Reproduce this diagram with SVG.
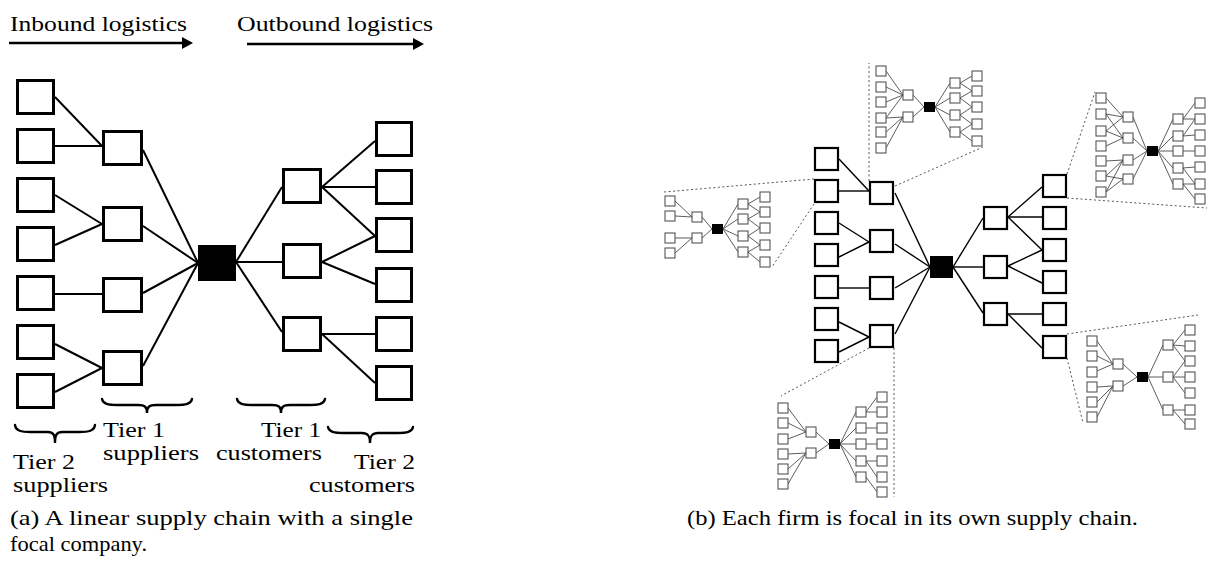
<svg xmlns="http://www.w3.org/2000/svg" width="1208" height="565" viewBox="0 0 1208 565">
  <style>
    .txt { font-family: "Liberation Serif", "DejaVu Serif", serif; font-size: 22px; fill: #000; }
    .bxa { fill: #fff; stroke: #000; stroke-width: 3; }
    .bxb { fill: #fff; stroke: #000; stroke-width: 2.2; }
    .bxm { fill: #fff; stroke: #555; stroke-width: 1.1; }
    .foc { fill: #000; }
    .lna { stroke: #000; stroke-width: 2; fill: none; }
    .lnb { stroke: #000; stroke-width: 1.4; fill: none; }
    .lnm { stroke: #333; stroke-width: 0.8; fill: none; }
    .dot { stroke: #555; stroke-width: 1; stroke-dasharray: 2 2.5; fill: none; }
    .brace { stroke: #000; stroke-width: 2.4; fill: none; stroke-linecap: round; }
    .arr { stroke: #000; stroke-width: 2.7; }
  </style>
  <rect width="1208" height="565" fill="#fff"/>

  <!-- ============ (a) linear supply chain ============ -->
  <g id="flow-labels">
    <text class="txt" x="10" y="31" textLength="177" lengthAdjust="spacingAndGlyphs">Inbound logistics</text>
    <line class="arr" x1="9" y1="43" x2="184" y2="43"/>
    <polygon points="193,43 182,37 182,49" fill="#000"/>
    <text class="txt" x="237" y="31" textLength="196" lengthAdjust="spacingAndGlyphs">Outbound logistics</text>
    <line class="arr" x1="247" y1="44" x2="415" y2="44"/>
    <polygon points="424,44 413,38 413,50" fill="#000"/>
  </g>

  <g id="a-connectors">
    <line class="lna" x1="55" y1="97" x2="102" y2="146"/>
    <line class="lna" x1="55" y1="146" x2="102" y2="146"/>
    <line class="lna" x1="55" y1="195" x2="102" y2="224"/>
    <line class="lna" x1="55" y1="245" x2="102" y2="224"/>
    <line class="lna" x1="55" y1="294" x2="102" y2="294"/>
    <line class="lna" x1="55" y1="344" x2="102" y2="368"/>
    <line class="lna" x1="55" y1="392" x2="102" y2="368"/>
    <line class="lna" x1="143" y1="150" x2="198" y2="263"/>
    <line class="lna" x1="143" y1="226" x2="198" y2="263"/>
    <line class="lna" x1="143" y1="293" x2="198" y2="263"/>
    <line class="lna" x1="143" y1="366" x2="198" y2="263"/>
    <line class="lna" x1="236" y1="262" x2="282" y2="187"/>
    <line class="lna" x1="236" y1="262" x2="282" y2="262"/>
    <line class="lna" x1="236" y1="262" x2="282" y2="332"/>
    <line class="lna" x1="322" y1="187" x2="375" y2="141"/>
    <line class="lna" x1="322" y1="187" x2="375" y2="187"/>
    <line class="lna" x1="322" y1="187" x2="375" y2="236"/>
    <line class="lna" x1="322" y1="262" x2="375" y2="236"/>
    <line class="lna" x1="322" y1="262" x2="375" y2="284"/>
    <line class="lna" x1="322" y1="334" x2="375" y2="334"/>
    <line class="lna" x1="322" y1="334" x2="375" y2="383"/>
  </g>

  <g id="a-tier2-suppliers">
    <rect class="bxa" x="17.5" y="80.5" width="36" height="33"/>
    <rect class="bxa" x="17.5" y="129.5" width="36" height="33"/>
    <rect class="bxa" x="17.5" y="178.5" width="36" height="33"/>
    <rect class="bxa" x="17.5" y="227.5" width="36" height="33"/>
    <rect class="bxa" x="17.5" y="276.5" width="36" height="33"/>
    <rect class="bxa" x="17.5" y="325.5" width="36" height="33"/>
    <rect class="bxa" x="17.5" y="374.5" width="36" height="33"/>
  </g>
  <g id="a-tier1-suppliers">
    <rect class="bxa" x="103.5" y="131.5" width="38" height="33"/>
    <rect class="bxa" x="103.5" y="207.5" width="38" height="33"/>
    <rect class="bxa" x="103.5" y="278.5" width="38" height="33"/>
    <rect class="bxa" x="103.5" y="351.5" width="38" height="33"/>
  </g>
  <g id="a-focal">
    <rect class="foc" x="198" y="245" width="38" height="36"/>
  </g>
  <g id="a-tier1-customers">
    <rect class="bxa" x="283.5" y="169.5" width="37" height="33"/>
    <rect class="bxa" x="283.5" y="244.5" width="37" height="33"/>
    <rect class="bxa" x="283.5" y="317.5" width="37" height="33"/>
  </g>
  <g id="a-tier2-customers">
    <rect class="bxa" x="376.5" y="122.5" width="35" height="33"/>
    <rect class="bxa" x="376.5" y="170.5" width="35" height="33"/>
    <rect class="bxa" x="376.5" y="218.5" width="35" height="33"/>
    <rect class="bxa" x="376.5" y="268.5" width="35" height="33"/>
    <rect class="bxa" x="376.5" y="317.5" width="35" height="33"/>
    <rect class="bxa" x="376.5" y="366.5" width="35" height="33"/>
  </g>

  <g id="a-braces">
    <path class="brace" d="M102,399 C103,404 108,405 118,405 L138,405 C145,405 147,407 147,413 C147,407 149,405 156,405 L176,405 C186,405 191,404 192,399"/>
    <path class="brace" d="M237,399 C238,404 243,405 253,405 L272,405 C279,405 281,407 281,413 C281,407 283,405 290,405 L309,405 C319,405 324,404 325,399"/>
    <path class="brace" d="M15,425 C16,431 21,432 31,432 L48,432 C54,432 55,436 55,443 C55,436 56,432 62,432 L79,432 C89,432 94,431 95,425"/>
    <path class="brace" d="M328,427 C329,432 334,433 344,433 L362,433 C368,433 370,436 370,443 C370,436 372,433 378,433 L397,433 C407,433 412,432 413,427"/>
  </g>

  <g id="a-labels">
    <text class="txt" x="103" y="437" textLength="62" lengthAdjust="spacingAndGlyphs">Tier 1</text>
    <text class="txt" x="103" y="460" textLength="96" lengthAdjust="spacingAndGlyphs">suppliers</text>
    <text class="txt" x="261" y="437" textLength="60" lengthAdjust="spacingAndGlyphs">Tier 1</text>
    <text class="txt" x="216" y="460" textLength="106" lengthAdjust="spacingAndGlyphs">customers</text>
    <text class="txt" x="13" y="469" textLength="62" lengthAdjust="spacingAndGlyphs">Tier 2</text>
    <text class="txt" x="13" y="492" textLength="95" lengthAdjust="spacingAndGlyphs">suppliers</text>
    <text class="txt" x="354" y="469" textLength="61" lengthAdjust="spacingAndGlyphs">Tier 2</text>
    <text class="txt" x="309" y="492" textLength="106" lengthAdjust="spacingAndGlyphs">customers</text>
    <text class="txt" x="10" y="525" textLength="403" lengthAdjust="spacingAndGlyphs">(a) A linear supply chain with a single</text>
    <text class="txt" x="10" y="551" textLength="137" lengthAdjust="spacingAndGlyphs">focal company.</text>
  </g>

  <!-- ============ (b) nested supply chains ============ -->
  <g id="b-zoom-guides">
    <line class="dot" x1="814" y1="179" x2="664" y2="192"/>
    <line class="dot" x1="814" y1="204" x2="772" y2="267"/>
    <line class="dot" x1="869" y1="181" x2="869" y2="63"/>
    <line class="dot" x1="895" y1="186" x2="983" y2="147"/>
    <line class="dot" x1="1067" y1="174" x2="1095" y2="92"/>
    <line class="dot" x1="1067" y1="198" x2="1207" y2="208"/>
    <line class="dot" x1="1067" y1="334" x2="1198" y2="315"/>
    <line class="dot" x1="1067" y1="358" x2="1083" y2="423"/>
    <line class="dot" x1="894" y1="348" x2="894" y2="497"/>
    <line class="dot" x1="869" y1="348" x2="781" y2="396"/>
  </g>

  <g id="b-connectors">
    <line class="lnb" x1="839" y1="159" x2="869" y2="191"/>
    <line class="lnb" x1="839" y1="191" x2="869" y2="191"/>
    <line class="lnb" x1="839" y1="223" x2="869" y2="242"/>
    <line class="lnb" x1="839" y1="257" x2="869" y2="242"/>
    <line class="lnb" x1="839" y1="288" x2="869" y2="288"/>
    <line class="lnb" x1="839" y1="322" x2="869" y2="337"/>
    <line class="lnb" x1="839" y1="352" x2="869" y2="337"/>
    <line class="lnb" x1="895" y1="193" x2="930" y2="267"/>
    <line class="lnb" x1="895" y1="244" x2="930" y2="267"/>
    <line class="lnb" x1="895" y1="288" x2="930" y2="267"/>
    <line class="lnb" x1="895" y1="334" x2="930" y2="267"/>
    <line class="lnb" x1="953" y1="267" x2="983" y2="218"/>
    <line class="lnb" x1="953" y1="267" x2="983" y2="267"/>
    <line class="lnb" x1="953" y1="267" x2="983" y2="313"/>
    <line class="lnb" x1="1008" y1="217" x2="1042" y2="187"/>
    <line class="lnb" x1="1008" y1="217" x2="1042" y2="217"/>
    <line class="lnb" x1="1008" y1="217" x2="1042" y2="250"/>
    <line class="lnb" x1="1008" y1="266" x2="1042" y2="250"/>
    <line class="lnb" x1="1008" y1="266" x2="1042" y2="283"/>
    <line class="lnb" x1="1008" y1="314" x2="1042" y2="314"/>
    <line class="lnb" x1="1008" y1="314" x2="1042" y2="348"/>
  </g>

  <g id="b-tier2-suppliers">
    <rect class="bxb" x="815" y="148" width="23" height="22"/>
    <rect class="bxb" x="815" y="180" width="23" height="22"/>
    <rect class="bxb" x="815" y="212" width="23" height="22"/>
    <rect class="bxb" x="815" y="244" width="23" height="22"/>
    <rect class="bxb" x="815" y="276" width="23" height="22"/>
    <rect class="bxb" x="815" y="308" width="23" height="22"/>
    <rect class="bxb" x="815" y="340" width="23" height="22"/>
  </g>
  <g id="b-tier1-suppliers">
    <rect class="bxb" x="870" y="182" width="23" height="22"/>
    <rect class="bxb" x="870" y="230" width="23" height="22"/>
    <rect class="bxb" x="870" y="277" width="23" height="22"/>
    <rect class="bxb" x="870" y="325" width="23" height="22"/>
  </g>
  <g id="b-focal">
    <rect class="foc" x="930" y="256" width="23" height="22"/>
  </g>
  <g id="b-tier1-customers">
    <rect class="bxb" x="984" y="207" width="23" height="22"/>
    <rect class="bxb" x="984" y="256" width="23" height="22"/>
    <rect class="bxb" x="984" y="303" width="23" height="22"/>
  </g>
  <g id="b-tier2-customers">
    <rect class="bxb" x="1043" y="175" width="23" height="22"/>
    <rect class="bxb" x="1043" y="207" width="23" height="22"/>
    <rect class="bxb" x="1043" y="239" width="23" height="22"/>
    <rect class="bxb" x="1043" y="271" width="23" height="22"/>
    <rect class="bxb" x="1043" y="303" width="23" height="22"/>
    <rect class="bxb" x="1043" y="336" width="23" height="22"/>
  </g>

  <!-- chain of a tier-2 supplier (left) -->
  <g id="chain-left">
    <g class="lnm">
      <line x1="675" y1="201" x2="692" y2="217"/><line x1="675" y1="216" x2="692" y2="217"/>
      <line x1="675" y1="238" x2="692" y2="238"/><line x1="675" y1="253" x2="692" y2="238"/>
      <line x1="702" y1="217" x2="712" y2="229"/><line x1="702" y1="238" x2="712" y2="229"/>
      <line x1="723" y1="229" x2="738" y2="204"/><line x1="723" y1="229" x2="738" y2="219"/>
      <line x1="723" y1="229" x2="738" y2="236"/><line x1="723" y1="229" x2="738" y2="252"/>
      <line x1="748" y1="204" x2="760" y2="197"/><line x1="748" y1="204" x2="760" y2="212"/>
      <line x1="748" y1="219" x2="760" y2="212"/><line x1="748" y1="219" x2="760" y2="228"/>
      <line x1="748" y1="236" x2="760" y2="228"/><line x1="748" y1="236" x2="760" y2="245"/>
      <line x1="748" y1="252" x2="760" y2="245"/><line x1="748" y1="252" x2="760" y2="262"/>
    </g>
    <rect class="bxm" x="665" y="196" width="10" height="10"/>
    <rect class="bxm" x="665" y="211" width="10" height="10"/>
    <rect class="bxm" x="665" y="233" width="10" height="10"/>
    <rect class="bxm" x="665" y="248" width="10" height="10"/>
    <rect class="bxm" x="692" y="212" width="10" height="10"/>
    <rect class="bxm" x="692" y="233" width="10" height="10"/>
    <rect class="foc" x="712" y="224" width="11" height="10"/>
    <rect class="bxm" x="738" y="199" width="10" height="10"/>
    <rect class="bxm" x="738" y="214" width="10" height="10"/>
    <rect class="bxm" x="738" y="231" width="10" height="10"/>
    <rect class="bxm" x="738" y="247" width="10" height="10"/>
    <rect class="bxm" x="760" y="192" width="10" height="10"/>
    <rect class="bxm" x="760" y="207" width="10" height="10"/>
    <rect class="bxm" x="760" y="223" width="10" height="10"/>
    <rect class="bxm" x="760" y="240" width="10" height="10"/>
    <rect class="bxm" x="760" y="257" width="10" height="10"/>
  </g>

  <!-- chain of a tier-1 supplier (top) -->
  <g id="chain-top">
    <g class="lnm">
      <line x1="886" y1="71" x2="903" y2="95"/><line x1="886" y1="87" x2="903" y2="95"/>
      <line x1="886" y1="102" x2="903" y2="95"/><line x1="886" y1="118" x2="903" y2="95"/>
      <line x1="886" y1="118" x2="903" y2="117"/><line x1="886" y1="132" x2="903" y2="117"/>
      <line x1="886" y1="148" x2="903" y2="117"/>
      <line x1="913" y1="95" x2="924" y2="107"/><line x1="913" y1="117" x2="924" y2="107"/>
      <line x1="935" y1="107" x2="950" y2="83"/><line x1="935" y1="107" x2="950" y2="98"/>
      <line x1="935" y1="107" x2="950" y2="115"/><line x1="935" y1="107" x2="950" y2="132"/>
      <line x1="960" y1="83" x2="972" y2="76"/><line x1="960" y1="83" x2="972" y2="91"/>
      <line x1="960" y1="98" x2="972" y2="91"/><line x1="960" y1="98" x2="972" y2="107"/>
      <line x1="960" y1="115" x2="972" y2="107"/><line x1="960" y1="115" x2="972" y2="124"/>
      <line x1="960" y1="132" x2="972" y2="124"/><line x1="960" y1="132" x2="972" y2="141"/>
    </g>
    <rect class="bxm" x="876" y="66" width="10" height="10"/>
    <rect class="bxm" x="876" y="82" width="10" height="10"/>
    <rect class="bxm" x="876" y="97" width="10" height="10"/>
    <rect class="bxm" x="876" y="113" width="10" height="10"/>
    <rect class="bxm" x="876" y="127" width="10" height="10"/>
    <rect class="bxm" x="876" y="143" width="10" height="10"/>
    <rect class="bxm" x="903" y="90" width="10" height="10"/>
    <rect class="bxm" x="903" y="112" width="10" height="10"/>
    <rect class="foc" x="924" y="102" width="11" height="10"/>
    <rect class="bxm" x="950" y="78" width="10" height="10"/>
    <rect class="bxm" x="950" y="93" width="10" height="10"/>
    <rect class="bxm" x="950" y="110" width="10" height="10"/>
    <rect class="bxm" x="950" y="127" width="10" height="10"/>
    <rect class="bxm" x="972" y="71" width="10" height="10"/>
    <rect class="bxm" x="972" y="86" width="10" height="10"/>
    <rect class="bxm" x="972" y="102" width="10" height="10"/>
    <rect class="bxm" x="972" y="119" width="10" height="10"/>
    <rect class="bxm" x="972" y="136" width="10" height="10"/>
  </g>

  <!-- chain of a tier-2 customer (upper right) -->
  <g id="chain-upper-right">
    <g class="lnm">
      <line x1="1106" y1="98" x2="1123" y2="117"/><line x1="1106" y1="114" x2="1123" y2="117"/>
      <line x1="1106" y1="114" x2="1123" y2="138"/><line x1="1106" y1="131" x2="1123" y2="117"/>
      <line x1="1106" y1="131" x2="1123" y2="138"/><line x1="1106" y1="146" x2="1123" y2="138"/>
      <line x1="1106" y1="161" x2="1123" y2="160"/><line x1="1106" y1="176" x2="1123" y2="160"/>
      <line x1="1106" y1="176" x2="1123" y2="179"/><line x1="1106" y1="192" x2="1123" y2="160"/>
      <line x1="1106" y1="192" x2="1123" y2="179"/>
      <line x1="1133" y1="117" x2="1147" y2="151"/><line x1="1133" y1="138" x2="1147" y2="151"/>
      <line x1="1133" y1="160" x2="1147" y2="151"/><line x1="1133" y1="179" x2="1147" y2="151"/>
      <line x1="1158" y1="151" x2="1173" y2="119"/><line x1="1158" y1="151" x2="1173" y2="136"/>
      <line x1="1158" y1="151" x2="1173" y2="151"/><line x1="1158" y1="151" x2="1173" y2="168"/>
      <line x1="1158" y1="151" x2="1173" y2="184"/>
      <line x1="1183" y1="119" x2="1195" y2="103"/><line x1="1183" y1="119" x2="1195" y2="119"/>
      <line x1="1183" y1="136" x2="1195" y2="119"/><line x1="1183" y1="136" x2="1195" y2="135"/>
      <line x1="1183" y1="151" x2="1195" y2="151"/>
      <line x1="1183" y1="168" x2="1195" y2="167"/><line x1="1183" y1="168" x2="1195" y2="184"/>
      <line x1="1183" y1="184" x2="1195" y2="184"/><line x1="1183" y1="184" x2="1195" y2="199"/>
    </g>
    <rect class="bxm" x="1096" y="93" width="10" height="10"/>
    <rect class="bxm" x="1096" y="109" width="10" height="10"/>
    <rect class="bxm" x="1096" y="126" width="10" height="10"/>
    <rect class="bxm" x="1096" y="141" width="10" height="10"/>
    <rect class="bxm" x="1096" y="156" width="10" height="10"/>
    <rect class="bxm" x="1096" y="171" width="10" height="10"/>
    <rect class="bxm" x="1096" y="187" width="10" height="10"/>
    <rect class="bxm" x="1123" y="112" width="10" height="10"/>
    <rect class="bxm" x="1123" y="133" width="10" height="10"/>
    <rect class="bxm" x="1123" y="155" width="10" height="10"/>
    <rect class="bxm" x="1123" y="174" width="10" height="10"/>
    <rect class="foc" x="1147" y="146" width="11" height="10"/>
    <rect class="bxm" x="1173" y="114" width="10" height="10"/>
    <rect class="bxm" x="1173" y="131" width="10" height="10"/>
    <rect class="bxm" x="1173" y="146" width="10" height="10"/>
    <rect class="bxm" x="1173" y="163" width="10" height="10"/>
    <rect class="bxm" x="1173" y="179" width="10" height="10"/>
    <rect class="bxm" x="1195" y="98" width="10" height="10"/>
    <rect class="bxm" x="1195" y="114" width="10" height="10"/>
    <rect class="bxm" x="1195" y="130" width="10" height="10"/>
    <rect class="bxm" x="1195" y="146" width="10" height="10"/>
    <rect class="bxm" x="1195" y="162" width="10" height="10"/>
    <rect class="bxm" x="1195" y="179" width="10" height="10"/>
    <rect class="bxm" x="1195" y="194" width="10" height="10"/>
  </g>

  <!-- chain of a tier-2 customer (lower right) -->
  <g id="chain-lower-right">
    <g class="lnm">
      <line x1="1097" y1="341" x2="1113" y2="364"/><line x1="1097" y1="356" x2="1113" y2="364"/>
      <line x1="1097" y1="371" x2="1113" y2="364"/><line x1="1097" y1="387" x2="1113" y2="386"/>
      <line x1="1097" y1="402" x2="1113" y2="386"/><line x1="1097" y1="417" x2="1113" y2="386"/>
      <line x1="1123" y1="364" x2="1137" y2="377"/><line x1="1123" y1="386" x2="1137" y2="377"/>
      <line x1="1148" y1="377" x2="1163" y2="345"/><line x1="1148" y1="377" x2="1163" y2="377"/>
      <line x1="1148" y1="377" x2="1163" y2="410"/>
      <line x1="1173" y1="345" x2="1185" y2="330"/><line x1="1173" y1="345" x2="1185" y2="346"/>
      <line x1="1173" y1="345" x2="1185" y2="361"/>
      <line x1="1173" y1="377" x2="1185" y2="361"/><line x1="1173" y1="377" x2="1185" y2="377"/>
      <line x1="1173" y1="377" x2="1185" y2="393"/>
      <line x1="1173" y1="410" x2="1185" y2="410"/><line x1="1173" y1="410" x2="1185" y2="424"/>
    </g>
    <rect class="bxm" x="1087" y="336" width="10" height="10"/>
    <rect class="bxm" x="1087" y="351" width="10" height="10"/>
    <rect class="bxm" x="1087" y="367" width="10" height="10"/>
    <rect class="bxm" x="1087" y="382" width="10" height="10"/>
    <rect class="bxm" x="1087" y="397" width="10" height="10"/>
    <rect class="bxm" x="1087" y="412" width="10" height="10"/>
    <rect class="bxm" x="1113" y="359" width="10" height="10"/>
    <rect class="bxm" x="1113" y="381" width="10" height="10"/>
    <rect class="foc" x="1137" y="372" width="11" height="10"/>
    <rect class="bxm" x="1163" y="340" width="10" height="10"/>
    <rect class="bxm" x="1163" y="372" width="10" height="10"/>
    <rect class="bxm" x="1163" y="405" width="10" height="10"/>
    <rect class="bxm" x="1185" y="325" width="10" height="10"/>
    <rect class="bxm" x="1185" y="341" width="10" height="10"/>
    <rect class="bxm" x="1185" y="356" width="10" height="10"/>
    <rect class="bxm" x="1185" y="372" width="10" height="10"/>
    <rect class="bxm" x="1185" y="388" width="10" height="10"/>
    <rect class="bxm" x="1185" y="405" width="10" height="10"/>
    <rect class="bxm" x="1185" y="419" width="10" height="10"/>
  </g>

  <!-- chain of a tier-1 supplier (bottom) -->
  <g id="chain-bottom">
    <g class="lnm">
      <line x1="788" y1="408" x2="806" y2="432"/><line x1="788" y1="423" x2="806" y2="432"/>
      <line x1="788" y1="439" x2="806" y2="432"/><line x1="788" y1="454" x2="806" y2="453"/>
      <line x1="788" y1="469" x2="806" y2="453"/><line x1="788" y1="484" x2="806" y2="453"/>
      <line x1="816" y1="432" x2="829" y2="444"/><line x1="816" y1="453" x2="829" y2="444"/>
      <line x1="840" y1="444" x2="856" y2="412"/><line x1="840" y1="444" x2="856" y2="428"/>
      <line x1="840" y1="444" x2="856" y2="444"/><line x1="840" y1="444" x2="856" y2="461"/>
      <line x1="840" y1="444" x2="856" y2="477"/>
      <line x1="866" y1="412" x2="877" y2="397"/><line x1="866" y1="412" x2="877" y2="412"/>
      <line x1="866" y1="428" x2="877" y2="428"/><line x1="866" y1="444" x2="877" y2="444"/>
      <line x1="866" y1="461" x2="877" y2="461"/><line x1="866" y1="461" x2="877" y2="477"/>
      <line x1="866" y1="477" x2="877" y2="492"/>
    </g>
    <rect class="bxm" x="778" y="403" width="10" height="10"/>
    <rect class="bxm" x="778" y="418" width="10" height="10"/>
    <rect class="bxm" x="778" y="434" width="10" height="10"/>
    <rect class="bxm" x="778" y="449" width="10" height="10"/>
    <rect class="bxm" x="778" y="464" width="10" height="10"/>
    <rect class="bxm" x="778" y="479" width="10" height="10"/>
    <rect class="bxm" x="806" y="427" width="10" height="10"/>
    <rect class="bxm" x="806" y="448" width="10" height="10"/>
    <rect class="foc" x="829" y="439" width="11" height="10"/>
    <rect class="bxm" x="856" y="407" width="10" height="10"/>
    <rect class="bxm" x="856" y="423" width="10" height="10"/>
    <rect class="bxm" x="856" y="439" width="10" height="10"/>
    <rect class="bxm" x="856" y="456" width="10" height="10"/>
    <rect class="bxm" x="856" y="472" width="10" height="10"/>
    <rect class="bxm" x="877" y="392" width="10" height="10"/>
    <rect class="bxm" x="877" y="407" width="10" height="10"/>
    <rect class="bxm" x="877" y="423" width="10" height="10"/>
    <rect class="bxm" x="877" y="439" width="10" height="10"/>
    <rect class="bxm" x="877" y="456" width="10" height="10"/>
    <rect class="bxm" x="877" y="472" width="10" height="10"/>
    <rect class="bxm" x="877" y="487" width="10" height="10"/>
  </g>

  <g id="b-caption">
    <text class="txt" x="687" y="525" textLength="451" lengthAdjust="spacingAndGlyphs">(b) Each firm is focal in its own supply chain.</text>
  </g>
</svg>
